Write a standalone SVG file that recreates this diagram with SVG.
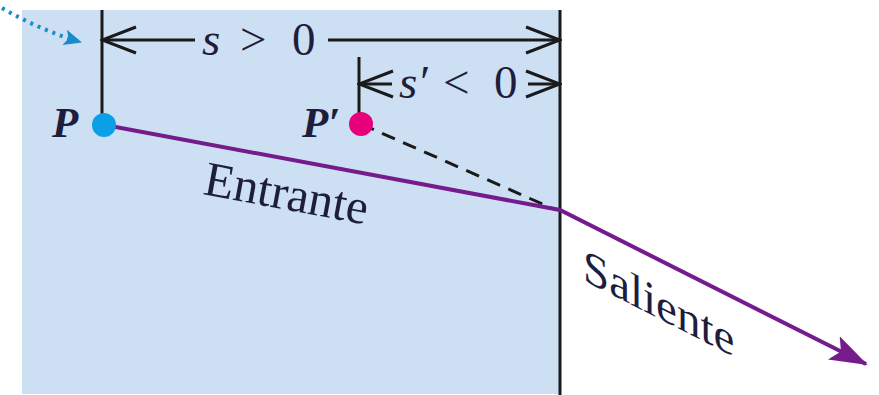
<svg xmlns="http://www.w3.org/2000/svg" width="879" height="395" viewBox="0 0 879 395">
<defs>
<style>
.dim{stroke:#1a1a1a;stroke-width:3;fill:none}
.t{font-family:"Liberation Serif","Times New Roman",serif;fill:#1e1e3c}
.it{font-style:italic}
.ray{stroke:#741c8c;stroke-width:4;fill:none}
</style>
<marker id="chev" viewBox="0 0 40 32" refX="38" refY="16" markerWidth="40" markerHeight="32" markerUnits="userSpaceOnUse" orient="auto-start-reverse">
<path d="M4 3 L38 16 L4 29" fill="none" stroke="#1a1a1a" stroke-width="3"/>
</marker>
<marker id="purpleHead" viewBox="0 0 40 30" refX="36" refY="15" markerWidth="40" markerHeight="30" markerUnits="userSpaceOnUse" orient="auto">
<path d="M0 2 L38 15 L0 28 L8 15 Z" fill="#741c8c"/>
</marker>
<marker id="blueHead" viewBox="0 0 20 20" refX="16" refY="10" markerWidth="20" markerHeight="20" markerUnits="userSpaceOnUse" orient="auto">
<path d="M0 2 L18 10 L0 18 L4 10 Z" fill="#1a8ccc"/>
</marker>
</defs>
<rect x="0" y="0" width="879" height="395" fill="#ffffff"/>
<g id="medium">
<rect x="22" y="10" width="538" height="384" fill="#cddff3"/>
<line x1="560" y1="10" x2="560" y2="395" stroke="#1a1a1a" stroke-width="3"/>
</g>
<g id="connectors">
<path d="M2 8 Q40 30 80 42" stroke="#1a8ccc" stroke-width="4" stroke-dasharray="3 5" fill="none" marker-end="url(#blueHead)"/>
<line class="dim" x1="102" y1="10" x2="102" y2="120"/>
<line class="dim" x1="359" y1="57" x2="359" y2="118"/>
<line class="dim" x1="102" y1="40" x2="195" y2="40" marker-start="url(#chev)"/>
<line class="dim" x1="328" y1="40" x2="560" y2="40" marker-end="url(#chev)"/>
<line class="dim" x1="359" y1="84" x2="392" y2="84" marker-start="url(#chev)"/>
<line class="dim" x1="528" y1="84" x2="560" y2="84" marker-end="url(#chev)"/>
<line x1="361" y1="124" x2="556" y2="210" stroke="#1a1a1a" stroke-width="3" stroke-dasharray="14 9"/>
<polyline class="ray" points="105,125 560,210 866,364" marker-end="url(#purpleHead)"/>
</g>
<g id="P">
<circle cx="104" cy="125" r="12" fill="#0ba0e6"/>
<text class="t it" x="52" y="137" font-size="43" font-weight="bold">P</text>
</g>
<g id="Pprime">
<circle cx="361" cy="124" r="12" fill="#e8007a"/>
<text class="t it" x="302" y="137" font-size="43" font-weight="bold">P′</text>
</g>
<g id="labels">
<text class="t" x="202" y="55" font-size="47"><tspan class="it">s</tspan><tspan x="240">&gt;</tspan><tspan x="292">0</tspan></text>
<text class="t" x="399" y="98" font-size="47"><tspan class="it">s′</tspan><tspan x="443">&lt;</tspan><tspan x="494">0</tspan></text>
<text class="t" transform="translate(202,194) rotate(10.6)" font-size="49">Entrante</text>
<text class="t" transform="translate(583,280) skewY(27)" font-size="47">Saliente</text>
</g>
</svg>
